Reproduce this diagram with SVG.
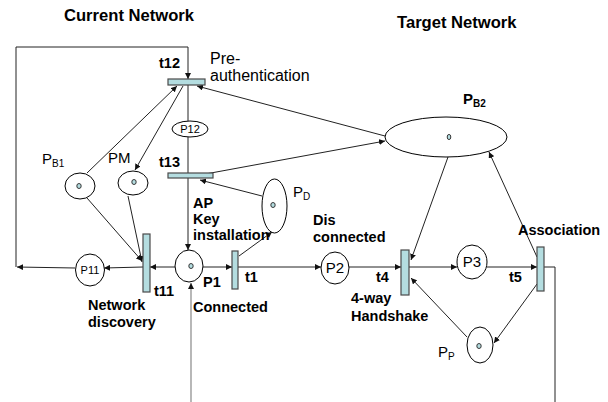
<svg xmlns="http://www.w3.org/2000/svg" width="608" height="402" viewBox="0 0 608 402">
<style>
.t{font-family:"Liberation Sans",Arial,sans-serif;fill:#000}
.b{font-weight:bold;font-size:14.5px}
.h{font-weight:bold;font-size:16.6px}
.r{font-size:16px}
.s{font-size:11px}
.m{font-size:15px}
.sub{font-size:10px}
.pl{fill:#fff;stroke:#000;stroke-width:1}
.tr{fill:#b4dde0;stroke:#4a4a4a;stroke-width:1.2}
.tk{fill:#b4dde0;stroke:#222;stroke-width:0.9}
.c{fill:none;stroke:#222;stroke-width:1}
.g{fill:none;stroke:#888;stroke-width:1.2}
</style>
<defs>
<marker id="a" viewBox="0 0 6 6" refX="6" refY="3" markerWidth="6" markerHeight="6" markerUnits="userSpaceOnUse" orient="auto"><path d="M0,0 L6,3 L0,6 z" fill="#111"/></marker>
</defs>
<rect width="608" height="402" fill="#fff"/>
<text class="t h" x="64" y="21">Current Network</text>
<text class="t h" x="397" y="28">Target Network</text>
<g id="connectors">
<path class="c" d="M16,267 L16,47 L188,47 L188,79" marker-end="url(#a)"/>
<path class="c" d="M75,268 L17,267" marker-end="url(#a)"/>
<path class="c" d="M188,85 L188,121"/>
<path class="c" d="M188,137 L188,173"/>
<path class="c" d="M87,173 L177,86" marker-end="url(#a)"/>
<path class="c" d="M183,86 L135,170" marker-end="url(#a)"/>
<path class="c" d="M87,198 L142,261" marker-end="url(#a)"/>
<path class="c" d="M128,196 L142,262" marker-end="url(#a)"/>
<path class="c" d="M385,136 L197,86" marker-end="url(#a)"/>
<path class="c" d="M200,175 L385,141" marker-end="url(#a)"/>
<path class="c" d="M262,196 L200,180" marker-end="url(#a)"/>
<path class="c" d="M188,178 L188,250" marker-end="url(#a)"/>
<path class="c" d="M175,267 L150,267" marker-end="url(#a)"/>
<path class="c" d="M143,267 L104,268" marker-end="url(#a)"/>
<path class="g" d="M191,402 L191,283" marker-end="url(#a)"/>
<path class="c" d="M203,267 L232,267" marker-end="url(#a)"/>
<path class="c" d="M239,256 L272,232" marker-end="url(#a)"/>
<path class="c" d="M238,267 L321,267" marker-end="url(#a)"/>
<path class="c" d="M349,267 L401,267" marker-end="url(#a)"/>
<path class="c" d="M409,267 L457,267" marker-end="url(#a)"/>
<path class="c" d="M487,267 L537,267" marker-end="url(#a)"/>
<path class="c" d="M448,157 L411,260" marker-end="url(#a)"/>
<path class="c" d="M537,257 L489,152" marker-end="url(#a)"/>
<path class="c" d="M537,284 L494,343" marker-end="url(#a)"/>
<path class="c" d="M467,337 L411,278" marker-end="url(#a)"/>
<path class="c" d="M544,267 L555,267 L555,402"/>
</g>
<g id="t12"><rect class="tr" x="168" y="79" width="37" height="6"/><text class="t b" x="159" y="68">t12</text><text class="t r" x="210" y="64">Pre-</text><text class="t r" x="210" y="81">authentication</text></g>
<g id="P12"><ellipse class="pl" cx="190" cy="129" rx="18" ry="8"/><text class="t s" x="190" y="133" text-anchor="middle">P12</text></g>
<g id="t13"><rect class="tr" x="168" y="173" width="45" height="5"/><text class="t b" x="159" y="167">t13</text></g>
<g id="PB1"><ellipse class="pl" cx="80" cy="186" rx="15" ry="13"/><ellipse class="tk" cx="79" cy="186" rx="2.2" ry="2.5"/><text class="t m" x="42" y="164">P<tspan class="sub" dy="3">B1</tspan></text></g>
<g id="PM"><ellipse class="pl" cx="133" cy="183" rx="15" ry="12"/><ellipse class="tk" cx="134" cy="182" rx="2.2" ry="2.5"/><text class="t m" x="108" y="163">PM</text></g>
<g id="t11"><rect class="tr" x="143" y="234" width="7" height="58"/><text class="t b" x="154" y="296">t11</text><text class="t b" x="88" y="310">Network</text><text class="t b" x="88" y="327">discovery</text></g>
<g id="P11"><ellipse class="pl" cx="90" cy="270" rx="14.5" ry="16"/><text class="t s" x="90" y="274" text-anchor="middle">P11</text></g>
<g id="P1"><ellipse class="pl" cx="189" cy="266" rx="14" ry="16"/><ellipse class="tk" cx="191" cy="266" rx="2.2" ry="2.5"/><text class="t b" x="203" y="287">P1</text><text class="t b" x="193" y="312">Connected</text><text class="t b" x="193" y="208">AP</text><text class="t b" x="193" y="224">Key</text><text class="t b" x="193" y="240">installation</text></g>
<g id="t1"><rect class="tr" x="232" y="251" width="6" height="38"/><text class="t b" x="245" y="282">t1</text></g>
<g id="PD"><ellipse class="pl" cx="274.5" cy="206" rx="12.5" ry="27"/><ellipse class="tk" cx="273" cy="205" rx="2.2" ry="2.5"/><text class="t m" x="293" y="197">P<tspan class="sub" dy="3">D</tspan></text></g>
<g id="P2"><ellipse class="pl" cx="335" cy="268" rx="14" ry="16"/><text class="t m" x="335" y="273" text-anchor="middle">P2</text><text class="t b" x="313" y="225">Dis</text><text class="t b" x="313" y="242">connected</text></g>
<g id="t4"><rect class="tr" x="401" y="250" width="8" height="45"/><text class="t b" x="376" y="282">t4</text><text class="t b" x="351" y="303">4-way</text><text class="t b" x="351" y="321">Handshake</text></g>
<g id="P3"><ellipse class="pl" cx="472" cy="262" rx="15" ry="17"/><text class="t m" x="472" y="267" text-anchor="middle">P3</text></g>
<g id="t5"><rect class="tr" x="537" y="247" width="7" height="44"/><text class="t b" x="509" y="282">t5</text><text class="t b" x="518" y="235">Association</text></g>
<g id="PB2"><ellipse class="pl" cx="446" cy="137" rx="61" ry="20"/><ellipse class="tk" cx="449" cy="137" rx="1.8" ry="2.6"/><text class="t" x="463" y="104" style="font-weight:bold;font-size:15px">P<tspan dy="3" style="font-size:10px">B2</tspan></text></g>
<g id="PP"><ellipse class="pl" cx="480" cy="345" rx="13" ry="18"/><ellipse class="tk" cx="479" cy="346" rx="2.2" ry="2.5"/><text class="t m" x="438" y="357">P<tspan class="sub" dy="3">P</tspan></text></g>
</svg>
